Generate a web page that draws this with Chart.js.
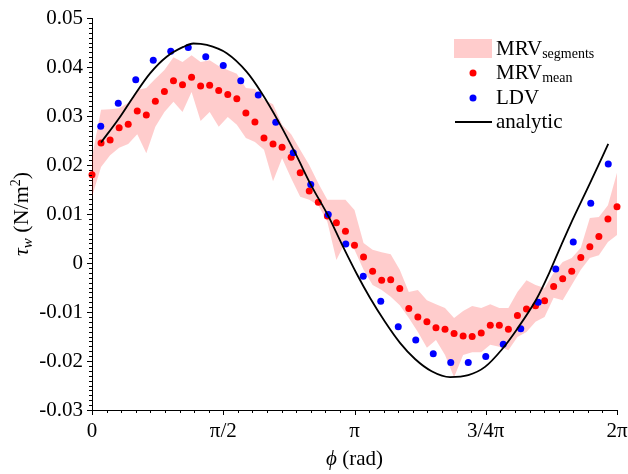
<!DOCTYPE html>
<html>
<head>
<meta charset="utf-8">
<script src="https://cdn.jsdelivr.net/npm/chart.js@4.4.1/dist/chart.umd.min.js"></script>
<style>
  html, body { margin: 0; padding: 0; background: #fff; }
</style>
</head>
<body>
<canvas id="c" width="628" height="474"></canvas>
<script>
const DEG = Math.PI / 180;
const FF = "'Liberation Serif', 'DejaVu Serif', serif";

// MRV: 59 samples over one period (0 .. 2pi)
const mrvStepDeg = 360 / 58;
const mrvMean = [0.0180, 0.0245, 0.0251, 0.0276, 0.0283, 0.0310, 0.0302, 0.0330, 0.0350, 0.0372,
  0.0364, 0.0379, 0.0361, 0.0363, 0.0352, 0.0344, 0.0335, 0.0306, 0.0288, 0.0255,
  0.0243, 0.0236, 0.0216, 0.0184, 0.0147, 0.0124, 0.0096, 0.0082, 0.0065, 0.0036,
  0.0012, -0.0017, -0.0035, -0.0034, -0.0052, -0.0093, -0.0110, -0.0120, -0.0132, -0.0135,
  -0.0144, -0.0149, -0.0150, -0.0143, -0.0127, -0.0127, -0.0135, -0.0107, -0.0094, -0.0087,
  -0.0077, -0.0048, -0.0032, -0.0017, 0.0011, 0.0033, 0.0054, 0.0090, 0.0115];
const mrvUpper = [0.0216, 0.0313, 0.0314, 0.0316, 0.0327, 0.0353, 0.0357, 0.0376, 0.0394, 0.0420,
  0.0410, 0.0424, 0.0410, 0.0414, 0.0402, 0.0394, 0.0386, 0.0357, 0.0355, 0.0333,
  0.0324, 0.0282, 0.0263, 0.0231, 0.0200, 0.0163, 0.0129, 0.0129, 0.0129, 0.0108,
  0.0041, 0.0027, 0.0022, 0.0018, -0.0014, -0.0059, -0.0055, -0.0076, -0.0084, -0.0092,
  -0.0112, -0.0098, -0.0088, -0.0092, -0.0084, -0.0092, -0.0092, -0.0059, -0.0035, -0.0045,
  -0.0051, -0.0020, 0.0002, 0.0010, 0.0031, 0.0092, 0.0094, 0.0118, 0.0184];
const mrvLower = [0.0135, 0.0196, 0.0220, 0.0235, 0.0243, 0.0263, 0.0224, 0.0278, 0.0308, 0.0329,
  0.0308, 0.0349, 0.0290, 0.0308, 0.0278, 0.0298, 0.0282, 0.0255, 0.0247, 0.0231,
  0.0167, 0.0214, 0.0173, 0.0135, 0.0129, 0.0118, 0.0084, 0.0006, 0.0043, 0.0027,
  -0.0014, -0.0045, -0.0055, -0.0069, -0.0086, -0.0112, -0.0141, -0.0173, -0.0157, -0.0188,
  -0.0233, -0.0188, -0.0182, -0.0182, -0.0167, -0.0171, -0.0178, -0.0151, -0.0141, -0.0120,
  -0.0110, -0.0071, -0.0076, -0.0045, -0.0014, 0.0010, 0.0016, 0.0043, 0.0057];

// LDV: 30 samples
const ldvPhiDeg = [6, 18, 30, 42, 54, 66, 78, 90, 102, 114, 126, 138, 150, 162, 174,
  186, 198, 210, 222, 234, 246, 258, 270, 282, 294, 306, 318, 330, 342, 354];
const ldvTau = [0.0279, 0.0326, 0.0374, 0.0414, 0.0432, 0.0440, 0.0421, 0.0403, 0.0372, 0.0343,
  0.0287, 0.0225, 0.0160, 0.0099, 0.0039, -0.0027, -0.0078, -0.0130, -0.0157, -0.0185,
  -0.0203, -0.0203, -0.0191, -0.0166, -0.0134, -0.0080, -0.0012, 0.0043, 0.0122, 0.0202];

// analytic curve
const analyticPhiDeg = [6.2, 18.7, 28.3, 39.8, 51.2, 62.6, 69.5, 78.7, 92.4, 106.1, 115.9, 128.2,
  139.9, 150.2, 162.0, 171.2, 181.5, 190.6, 200.9, 211.2, 221.5, 232.9, 245.5, 258.0,
  269.5, 280.9, 291.2, 304.9, 313.4, 321.4, 327.8, 341.5, 354.0];
const analyticTau = [0.0246, 0.0296, 0.0339, 0.0387, 0.0421, 0.0441, 0.0448, 0.0445, 0.0428, 0.0390, 0.0349, 0.0287,
  0.0221, 0.0159, 0.0096, 0.0039, -0.0022, -0.0071, -0.0120, -0.0163, -0.0196, -0.0221, -0.0233, -0.0229,
  -0.0212, -0.0177, -0.0136, -0.0073, -0.0021, 0.0034, 0.0077, 0.0163, 0.0243];

const yTicks = [-0.03, -0.02, -0.01, 0, 0.01, 0.02, 0.03, 0.04, 0.05];
const xTicksPi = [0, 0.5, 1, 1.5, 2];
const xTickLabels = ['0', 'π/2', 'π', '3/4π', '2π'];
const legendMain = ['MRV', 'MRV', 'LDV', 'analytic'];
const legendSub = ['segments', 'mean', '', ''];

const bandColor = 'rgba(255,0,0,0.2)';
const mrvPts = arr => arr.map((v, i) => ({ x: i * mrvStepDeg * DEG, y: v }));
const zipDeg = (xs, ys) => xs.map((d, i) => ({ x: d * DEG, y: ys[i] }));

function drawParts(ctx, parts, x, y, align) {
  let total = 0;
  parts.forEach(p => { ctx.font = p.f; p.w = ctx.measureText(p.t).width; total += p.w; });
  let cx = align === 'center' ? x - total / 2 : x;
  ctx.textAlign = 'left';
  ctx.textBaseline = 'alphabetic';
  parts.forEach(p => { ctx.font = p.f; ctx.fillText(p.t, cx, y + (p.dy || 0)); cx += p.w; });
}

const decor = {
  id: 'decor',
  afterDraw(chart) {
    const ctx = chart.ctx;
    const xs = chart.scales.x, ys = chart.scales.y;
    const area = chart.chartArea;
    ctx.save();
    ctx.strokeStyle = '#000';
    ctx.lineWidth = 1;
    ctx.beginPath();
    for (let i = -30; i <= 50; i++) {
      const y = Math.round(ys.getPixelForValue(i / 1000)) + 0.5;
      const len = i % 10 === 0 ? 5 : 3;
      ctx.moveTo(area.left - len, y);
      ctx.lineTo(area.left, y);
    }
    for (let i = 0; i <= 36; i++) {
      const x = Math.round(xs.getPixelForValue(i * Math.PI / 18)) + 0.5;
      const len = i % 9 === 0 ? 5 : 3;
      ctx.moveTo(x, area.bottom);
      ctx.lineTo(x, area.bottom + len);
    }
    ctx.stroke();

    ctx.fillStyle = '#000';
    // axis titles
    drawParts(ctx, [
      { t: 'ϕ', f: 'italic 21px ' + FF },
      { t: ' (rad)', f: '21px ' + FF }
    ], (area.left + area.right) / 2, 465, 'center');

    ctx.save();
    ctx.translate(28, (area.top + area.bottom) / 2);
    ctx.rotate(-Math.PI / 2);
    drawParts(ctx, [
      { t: 'τ', f: 'italic 22px ' + FF },
      { t: 'w', f: 'italic 15px ' + FF, dy: 4 },
      { t: ' (N/m', f: '22px ' + FF },
      { t: '2', f: '14px ' + FF, dy: -8 },
      { t: ')', f: '22px ' + FF }
    ], 0, 0, 'center');
    ctx.restore();

    // legend
    const lx = 454, tx = 496;
    const rowY = [48.5, 73, 98, 122];
    ctx.fillStyle = bandColor;
    ctx.fillRect(lx, 39, 38, 19);
    ctx.fillStyle = '#ff0000';
    ctx.beginPath(); ctx.arc(473, rowY[1], 3.5, 0, 2 * Math.PI); ctx.fill();
    ctx.fillStyle = '#0000ff';
    ctx.beginPath(); ctx.arc(473, rowY[2], 3.5, 0, 2 * Math.PI); ctx.fill();
    ctx.strokeStyle = '#000';
    ctx.lineWidth = 1.8;
    ctx.beginPath(); ctx.moveTo(455, rowY[3]); ctx.lineTo(492, rowY[3]); ctx.stroke();
    ctx.fillStyle = '#000';
    legendMain.forEach((m, i) => {
      const parts = [{ t: m, f: '21px ' + FF }];
      if (legendSub[i]) parts.push({ t: legendSub[i], f: '14px ' + FF, dy: 3 });
      drawParts(ctx, parts, tx, rowY[i] + 6, 'left');
    });
    ctx.restore();
  }
};

new Chart(document.getElementById('c'), {
  type: 'scatter',
  data: {
    datasets: [
      { label: 'MRV segments (lower)', data: mrvPts(mrvLower), showLine: true, borderWidth: 0,
        borderColor: 'rgba(0,0,0,0)', pointRadius: 0, fill: false, order: 5 },
      { label: 'MRV segments', data: mrvPts(mrvUpper), showLine: true, borderWidth: 0,
        borderColor: 'rgba(0,0,0,0)', pointRadius: 0, fill: '-1', backgroundColor: bandColor, order: 4 },
      { label: 'MRV mean', data: mrvPts(mrvMean), pointRadius: 3.5, backgroundColor: '#ff0000',
        borderWidth: 0, clip: false, order: 3 },
      { label: 'LDV', data: zipDeg(ldvPhiDeg, ldvTau), pointRadius: 3.5, backgroundColor: '#0000ff',
        borderWidth: 0, clip: false, order: 2 },
      { label: 'analytic', data: zipDeg(analyticPhiDeg, analyticTau), showLine: true, borderColor: '#000',
        borderWidth: 1.8, pointRadius: 0, cubicInterpolationMode: 'monotone', order: 1 }
    ]
  },
  options: {
    responsive: false,
    animation: false,
    devicePixelRatio: 1,
    layout: { padding: { top: 18, right: 11, left: 0, bottom: 0 } },
    plugins: { legend: { display: false }, tooltip: { enabled: false } },
    scales: {
      x: {
        type: 'linear', min: 0, max: 2 * Math.PI,
        grid: { display: false, drawTicks: false },
        border: { display: true, color: '#000', width: 1 },
        afterBuildTicks: s => { s.ticks = xTicksPi.map(v => ({ value: v * Math.PI })); },
        afterFit: s => { s.height = 64; s.paddingLeft = 0; s.paddingRight = 0; },
        ticks: { padding: 9, color: '#000', font: { family: FF, size: 21 }, maxRotation: 0, autoSkip: false,
          callback: (v, i) => xTickLabels[i] }
      },
      y: {
        min: -0.03, max: 0.05,
        grid: { display: false, drawTicks: false },
        border: { display: true, color: '#000', width: 1 },
        afterBuildTicks: s => { s.ticks = yTicks.map(v => ({ value: v })); },
        afterFit: s => { s.width = 92; s.paddingTop = 0; s.paddingBottom = 0; },
        ticks: { padding: 9, color: '#000', font: { family: FF, size: 21 }, autoSkip: false,
          callback: v => (Math.abs(v) < 1e-9 ? '0' : v.toFixed(2)) }
      }
    }
  },
  plugins: [decor]
});
</script>
</body>
</html>
